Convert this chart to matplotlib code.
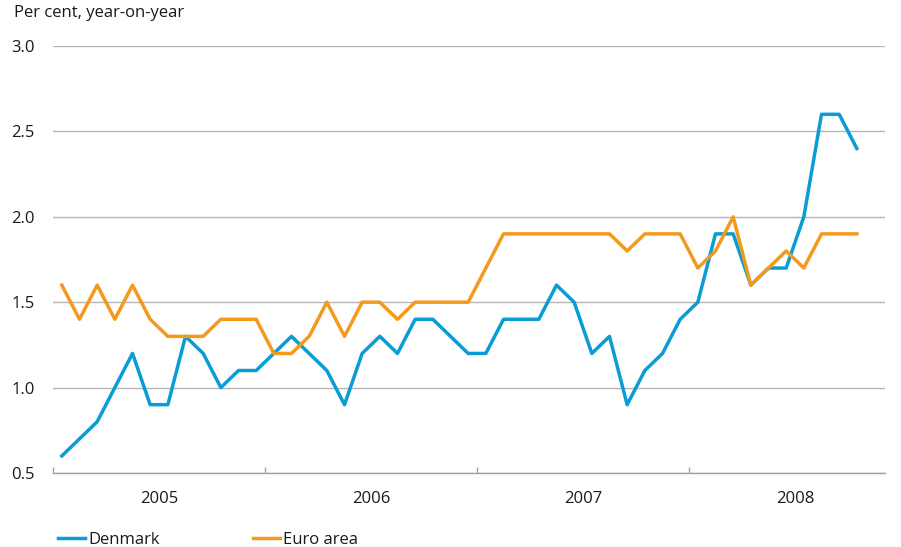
import matplotlib.pyplot as plt
import numpy as np

# monthly data, Jan 2005 - Oct 2008
denmark = [0.6, 0.7, 0.8, 1.0, 1.2, 0.9, 0.9, 1.3, 1.2, 1.0, 1.1, 1.1,
           1.2, 1.3, 1.2, 1.1, 0.9, 1.2, 1.3, 1.2, 1.4, 1.4, 1.3, 1.2,
           1.2, 1.4, 1.4, 1.4, 1.6, 1.5, 1.2, 1.3, 0.9, 1.1, 1.2, 1.4,
           1.5, 1.9, 1.9, 1.6, 1.7, 1.7, 2.0, 2.6, 2.6, 2.4]
euro_area = [1.6, 1.4, 1.6, 1.4, 1.6, 1.4, 1.3, 1.3, 1.3, 1.4, 1.4, 1.4,
             1.2, 1.2, 1.3, 1.5, 1.3, 1.5, 1.5, 1.4, 1.5, 1.5, 1.5, 1.5,
             1.7, 1.9, 1.9, 1.9, 1.9, 1.9, 1.9, 1.9, 1.8, 1.9, 1.9, 1.9,
             1.7, 1.8, 2.0, 1.6, 1.7, 1.8, 1.7, 1.9, 1.9, 1.9]
years = [2005, 2006, 2007, 2008]
yticks = [0.5, 1.0, 1.5, 2.0, 2.5, 3.0]

plt.rcParams['font.family'] = ['Open Sans', 'DejaVu Sans']
text_col = '#1a1a1a'
fs = 12

x = 2005 + (np.arange(len(denmark)) + 0.5) / 12

fig = plt.figure(figsize=(9.01, 5.47), dpi=100)
ax = fig.add_axes([53/901, 74/547, 832/901, 427/547])

ax.plot(x, denmark, color='#0a9cd5', lw=2.5, label='Denmark', zorder=3)
ax.plot(x, euro_area, color='#f39a1e', lw=2.5, label='Euro area', zorder=3)

ax.set_ylim(0.5, 3.0)
ax.set_xlim(2005, 2005 + 832/212)
ax.set_yticks(yticks)
ax.set_yticklabels(['%.1f' % v for v in yticks])
ax.grid(axis='y', color='#b5b5b5', lw=1)
ax.set_axisbelow(True)

ax.set_xticks(years)
ax.set_xticklabels([])
ax.set_xticks([y + 0.5 for y in years], minor=True)
ax.set_xticklabels([str(y) for y in years], minor=True)
ax.tick_params(axis='x', which='major', direction='in', length=4, color='#a0a0a0', width=1)
ax.tick_params(axis='x', which='minor', length=0, pad=13, labelsize=fs, labelcolor=text_col)
ax.tick_params(axis='y', length=0, pad=13, labelsize=fs, labelcolor=text_col)

for s in ['left', 'right', 'top']:
    ax.spines[s].set_visible(False)
ax.spines['bottom'].set_color('#a0a0a0')
ax.spines['bottom'].set_linewidth(1)

fig.text(14/901, 1 - 5/547, 'Per cent, year-on-year', ha='left', va='top',
         fontsize=fs, color=text_col)

fig.legend(loc='lower left', bbox_to_anchor=(50/901, -9/547), ncol=2, frameon=False,
           fontsize=fs, handlelength=1.6, handletextpad=0.2, columnspacing=5.6,
           labelcolor=text_col, borderaxespad=0.1)

plt.savefig('out.png', dpi=100)
